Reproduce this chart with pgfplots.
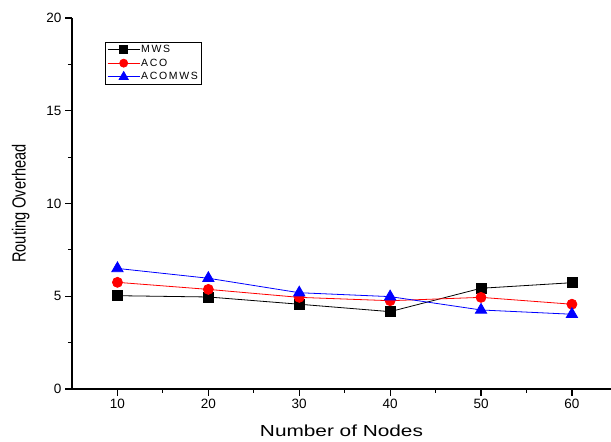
\documentclass[border=0pt]{standalone}
\usepackage{fontspec}
\setmainfont{Liberation Sans}
\newfontfamily\widefont[FakeStretch=1.3]{Liberation Sans}
\newfontfamily\spacedfont[LetterSpace=16]{Liberation Sans}
\usepackage{pgfplots}
\pgfplotsset{compat=1.18}

\begin{document}
\begin{tikzpicture}
\path[use as bounding box] (0,0) rectangle (611pt,442pt);
\begin{axis}[
  at={(72pt,53pt)}, anchor=south west,
  width=539pt, height=371pt, scale only axis,
  xmin=5, xmax=64.3,
  ymin=0, ymax=20,
  axis x line*=bottom, axis y line*=left,
  axis line style={line width=1.4pt, -},
  xtick={10,20,...,60},
  ytick={0,5,...,20},
  minor x tick num=1, minor y tick num=1,
  tick align=outside,
  major tick length=7pt, minor tick length=4pt,
  tick style={line width=1.2pt, black},
  /pgf/number format/assume math mode=true,
  tick label style={font=\fontsize{13.5}{15}\selectfont},
  xlabel={\widefont\fontsize{16}{18}\selectfont Number of Nodes},
  ylabel={\scalebox{1}[1.3]{\fontsize{14.6}{17}\selectfont Routing Overhead}},
  xlabel style={yshift=-9pt},
  ylabel style={yshift=10pt},
  legend style={at={(axis description cs:0.0612,0.935)}, anchor=north west, draw=black, line width=0.6pt,
    font=\spacedfont\fontsize{10.5}{12}\selectfont, row sep=3.5pt,
    inner xsep=2pt, inner ysep=2.5pt,
    nodes={inner xsep=1pt, inner ysep=0.5pt}},
  legend cell align=left,
  legend image code/.code={
    \draw[#1, line width=0.8pt] (0pt,0pt) -- (32pt,0pt);
    \draw[#1, only marks, every mark/.append style={scale=0.8}] plot coordinates {(16pt,0pt)};
  },
  clip=false,
]
\addplot[black, line width=0.8pt, mark=square*, mark size=5pt, mark options={fill=black, solid}]
  coordinates {(10,5.03) (20,4.96) (30,4.57) (40,4.17) (50,5.43) (60,5.73)};
\addplot[red, line width=0.8pt, mark=*, mark size=5pt, mark options={fill=red, solid}]
  coordinates {(10,5.75) (20,5.37) (30,4.94) (40,4.76) (50,4.94) (60,4.57)};
\addplot[blue, line width=0.8pt, mark=triangle*, mark size=6.5pt, mark options={fill=blue, solid}]
  coordinates {(10,6.5) (20,5.97) (30,5.19) (40,4.98) (50,4.26) (60,4.03)};
\legend{MWS, ACO, ACOMWS}
\end{axis}
\end{tikzpicture}
\end{document}
